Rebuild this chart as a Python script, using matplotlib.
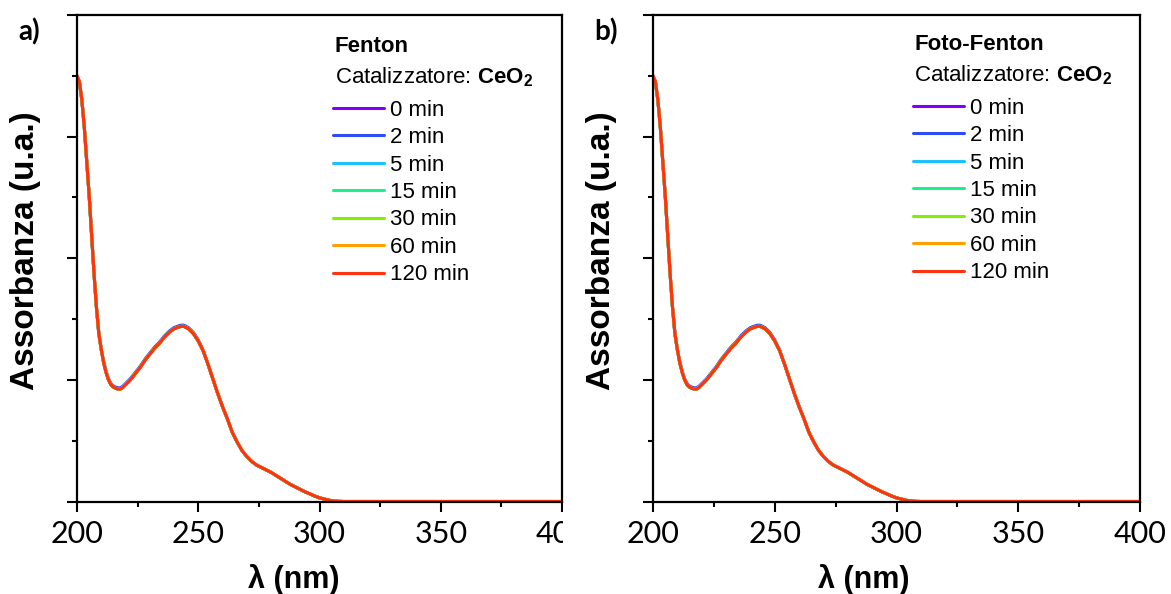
import matplotlib
matplotlib.use("Agg")
import matplotlib.pyplot as plt
from matplotlib.patches import Rectangle
from matplotlib.ticker import MultipleLocator, NullFormatter

plt.rcParams['font.family'] = ['Liberation Sans', 'DejaVu Sans']
plt.rcParams['mathtext.fontset'] = 'custom'
plt.rcParams['mathtext.rm'] = 'Liberation Sans'
plt.rcParams['mathtext.bf'] = 'Liberation Sans:bold'

# wavelength grid (nm)
wl = [200, 201, 202, 203, 204, 205, 206, 207, 208, 209, 210, 211, 212, 213,
      214, 215, 216, 217, 218, 219, 220, 222, 224, 226, 228, 230, 232, 234,
      236, 238, 240, 242, 243, 244, 246, 248, 250, 252, 254, 256, 258, 260,
      262, 264, 266, 268, 270, 272, 274, 276, 278, 280, 282, 284, 286, 288,
      290, 292, 294, 296, 298, 300, 302, 304, 306, 308, 310, 320, 340, 360,
      380, 400]

# absorbance (all times overlap almost exactly)
fenton_abs = [3.50, 3.45, 3.30, 3.08, 2.80, 2.52, 2.20, 1.88, 1.60, 1.38, 1.25,
              1.14, 1.06, 1.00, 0.96, 0.94, 0.93, 0.925, 0.925, 0.94, 0.96,
              1.00, 1.05, 1.10, 1.16, 1.21, 1.26, 1.30, 1.35, 1.39, 1.42,
              1.435, 1.44, 1.44, 1.42, 1.38, 1.32, 1.24, 1.13, 1.01, 0.89,
              0.78, 0.68, 0.57, 0.49, 0.42, 0.37, 0.33, 0.30, 0.28, 0.26,
              0.24, 0.215, 0.19, 0.165, 0.14, 0.12, 0.10, 0.08, 0.063, 0.045,
              0.03, 0.02, 0.01, 0.004, 0.001, 0.0, 0.0, 0.0, 0.0, 0.0, 0.0]
# 2 min trace sits a hair above the others around the minimum and peak
fenton_abs_2 = [3.50, 3.45, 3.30, 3.08, 2.80, 2.52, 2.20, 1.88, 1.60, 1.38, 1.25,
                1.15, 1.07, 1.01, 0.97, 0.95, 0.94, 0.935, 0.935, 0.95, 0.97,
                1.01, 1.06, 1.11, 1.17, 1.22, 1.27, 1.31, 1.36, 1.40, 1.43,
                1.445, 1.45, 1.45, 1.43, 1.39, 1.33, 1.245, 1.13, 1.01, 0.89,
                0.78, 0.68, 0.57, 0.49, 0.42, 0.37, 0.33, 0.30, 0.28, 0.26,
                0.24, 0.215, 0.19, 0.165, 0.14, 0.12, 0.10, 0.08, 0.063, 0.045,
                0.03, 0.02, 0.01, 0.004, 0.001, 0.0, 0.0, 0.0, 0.0, 0.0, 0.0]
# panel b reads the same as panel a
foto_abs = list(fenton_abs)
foto_abs_2 = list(fenton_abs_2)

times = ['0 min', '2 min', '5 min', '15 min', '30 min', '60 min', '120 min']
colors = ['#8000ff', '#2e4cf5', '#1ec0ff', '#1cf08a', '#7ef000', '#ffa000', '#ff3312']

W, H = 1171, 594
fig = plt.figure(figsize=(W / 100, H / 100), dpi=100)


def px_axes(x0, x1, y0, y1):
    return fig.add_axes([x0 / W, 1 - y1 / H, (x1 - x0) / W, (y1 - y0) / H])


ax_a = px_axes(77, 562, 15, 501.5)
ax_b = px_axes(653, 1140, 15, 501.5)

panels = [
    (ax_a, fenton_abs, fenton_abs_2, 'Fenton', 'a)', 18, 0.528, 0.447, -0.106, 0.0),
    (ax_b, foto_abs, foto_abs_2, 'Foto-Fenton', 'b)', 594, 0.533, 0.433, -0.105, 0.004),
]

for ax, base, two, title, tag, tag_x, lx, xlab_x, ylab_x, dy in panels:
    for t, c in zip(times, colors):
        y = two if t == '2 min' else base
        ax.plot(wl, y, color=c, lw=2.2, label=t, solid_capstyle='round')

    ax.set_xlim(200, 400)
    ax.set_ylim(0, 4)
    ax.xaxis.set_major_locator(MultipleLocator(50))
    ax.xaxis.set_minor_locator(MultipleLocator(25))
    ax.yaxis.set_major_locator(MultipleLocator(1))
    ax.yaxis.set_minor_locator(MultipleLocator(0.5))
    ax.yaxis.set_major_formatter(NullFormatter())
    ax.tick_params(which='major', direction='out', length=7, width=1.5,
                   labelsize=22, pad=6, top=False, right=False)
    ax.tick_params(which='minor', direction='out', length=3.5, width=1.5,
                   top=False, right=False)
    for lbl in ax.get_xticklabels():
        lbl.set_fontfamily('Lato')
    for sp in ax.spines.values():
        sp.set_linewidth(1.6)

    ax.set_xlabel('λ (nm)', fontsize=22, fontweight='bold', va='top')
    ax.xaxis.set_label_coords(xlab_x, -0.128)
    ax.set_ylabel('Assorbanza (u.a.)', fontsize=24, fontweight='bold', va='center')
    ax.yaxis.set_label_coords(ylab_x, 0.515)

    ax.text(lx + 0.003, 0.935 + dy, title, transform=ax.transAxes,
            fontsize=16, fontweight='bold', va='center', ha='left')
    ax.text(lx + 0.003, 0.873 + dy, r'Catalizzatore: $\mathbf{CeO_2}$',
            transform=ax.transAxes, fontsize=16, va='center', ha='left')
    leg = ax.legend(loc='upper left', bbox_to_anchor=(lx, 0.826 + dy),
                    frameon=False, fontsize=16, handlelength=2.3,
                    handletextpad=0.27, labelspacing=0.29, borderpad=0,
                    borderaxespad=0)
    for h in leg.get_lines():
        h.set_linewidth(2.2)

    fig.text(tag_x / W, 1 - 32 / H, tag, fontsize=20, fontweight='bold',
             family='Lato', va='center', ha='left')

# the "400" label of panel a is cut off by panel b in the original
fig.patches.append(Rectangle((563 / W, 1 - 548 / H), 25 / W, 40 / H,
                             transform=fig.transFigure, facecolor='white',
                             edgecolor='none', zorder=10))

plt.savefig('out.png', dpi=100)
